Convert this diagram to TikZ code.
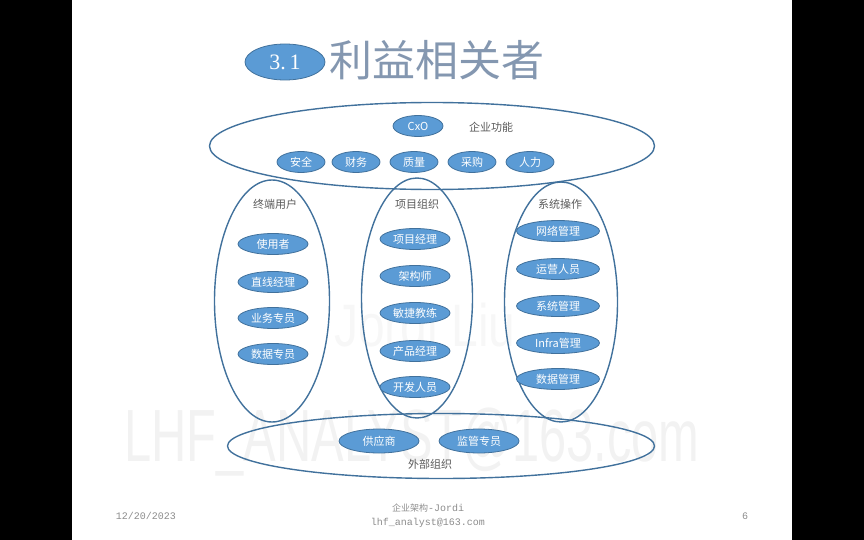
\documentclass[tikz,border=0pt]{standalone}
\usepackage{fontspec}
\newfontfamily\cjk{Noto Sans CJK SC}
\newfontfamily\wmfont{Liberation Sans}
\newfontfamily\footfont{Liberation Mono}
\newfontfamily\numfont{Liberation Serif}
\usetikzlibrary{shapes.geometric}
\definecolor{nodeblue}{RGB}{91,155,213}
\definecolor{edgeblue}{RGB}{65,113,156}
\definecolor{titlegray}{RGB}{132,151,176}
\definecolor{labelgray}{RGB}{89,89,89}
\definecolor{footgray}{RGB}{140,140,140}

\begin{document}
\begin{tikzpicture}[x=1pt, y=-1pt, every node/.style={inner sep=0pt},
    stakeset/.style={ellipse,draw=edgeblue,line width=1.4pt},
    rolenode/.style={ellipse,draw=edgeblue,fill=nodeblue,line width=.8pt,text=white,
      minimum width=70pt,minimum height=21pt,font=\cjk\fontsize{11}{11}\selectfont},
    setlabel/.style={text=labelgray,font=\cjk\fontsize{11}{11}\selectfont},
    footnote/.style={text=footgray,font=\footfont\fontsize{10}{10}\selectfont}]
  \useasboundingbox (0,0) rectangle (864,540);
  \fill [black] (0,0) rectangle (72,540);
  \fill [black] (792,0) rectangle (864,540);
  % watermarks
  \node [text=black!5,font=\wmfont\fontsize{74}{74}\selectfont] (mark) at (412,442) {\scalebox{.66}[1]{LHF\_ANALYST@163.com}};
  \node [text=black!3,font=\wmfont\fontsize{60}{60}\selectfont] (name) at (425,325) {\scalebox{.8}[1]{Jordi Liu}};
  % title
  \node [ellipse,draw=edgeblue,fill=nodeblue,line width=.8pt,minimum width=80pt,minimum height=36pt,text=white,font=\numfont\fontsize{22}{22}\selectfont] (num) at (285,62) {3.\,1};
  \node [text=titlegray,font=\cjk\fontsize{43}{43}\selectfont] (title) at (437,60) {利益相关者};
  % stakeholder sets
  \node [stakeset,minimum width=445pt,minimum height=87pt] (corp) at (432,146) {};
  \node [stakeset,minimum width=115pt,minimum height=242pt] (user) at (272,301) {};
  \node [stakeset,minimum width=111pt,minimum height=240pt] (proj) at (417,298) {};
  \node [stakeset,minimum width=113pt,minimum height=240pt] (ops) at (561,302) {};
  \node [stakeset,minimum width=427pt,minimum height=65pt] (ext) at (441,446) {};
  \node [setlabel] (corpl) at (491,127) {企业功能};
  \node [setlabel] (userl) at (275,204) {终端用户};
  \node [setlabel] (projl) at (417,204) {项目组织};
  \node [setlabel] (opsl) at (560,204) {系统操作};
  \node [setlabel] (extl) at (430,464) {外部组织};
  % enterprise functions
  \node [rolenode,minimum width=50pt] (cxo) at (418,126) {CxO};
  \node [rolenode,minimum width=48pt] (sec) at (301,162) {安全};
  \node [rolenode,minimum width=48pt] (fin) at (356,162) {财务};
  \node [rolenode,minimum width=48pt] (qa) at (414,162) {质量};
  \node [rolenode,minimum width=48pt] (buy) at (472,162) {采购};
  \node [rolenode,minimum width=48pt] (hr) at (530,162) {人力};
  % end users
  \node [rolenode] (u1) at (273,244) {使用者};
  \node [rolenode] (u2) at (273,282) {直线经理};
  \node [rolenode] (u3) at (273,318) {业务专员};
  \node [rolenode] (u4) at (273,354) {数据专员};
  % project
  \node [rolenode] (p1) at (415,239) {项目经理};
  \node [rolenode] (p2) at (415,276) {架构师};
  \node [rolenode] (p3) at (415,313) {敏捷教练};
  \node [rolenode] (p4) at (415,351) {产品经理};
  \node [rolenode] (p5) at (415,387) {开发人员};
  % operations
  \node [rolenode,minimum width=83pt] (o1) at (558,231) {网络管理};
  \node [rolenode,minimum width=83pt] (o2) at (558,269) {运营人员};
  \node [rolenode,minimum width=83pt] (o3) at (558,306) {系统管理};
  \node [rolenode,minimum width=83pt] (o4) at (558,343) {Infra管理};
  \node [rolenode,minimum width=83pt] (o5) at (558,379) {数据管理};
  % external
  \node [rolenode,minimum width=80pt,minimum height=24pt] (sup) at (379,441) {供应商};
  \node [rolenode,minimum width=80pt,minimum height=24pt] (reg) at (479,441) {监管专员};
  % footer
  \node [footnote] (date) at (146,516) {12/20/2023};
  \node [footnote] (brand) at (428,508) {{\cjk\fontsize{9}{9}\selectfont 企业架构}-Jordi};
  \node [footnote] (mail) at (428,523) {lhf\_analyst@163.com};
  \node [footnote] (page) at (745,516) {6};
\end{tikzpicture}
\end{document}
